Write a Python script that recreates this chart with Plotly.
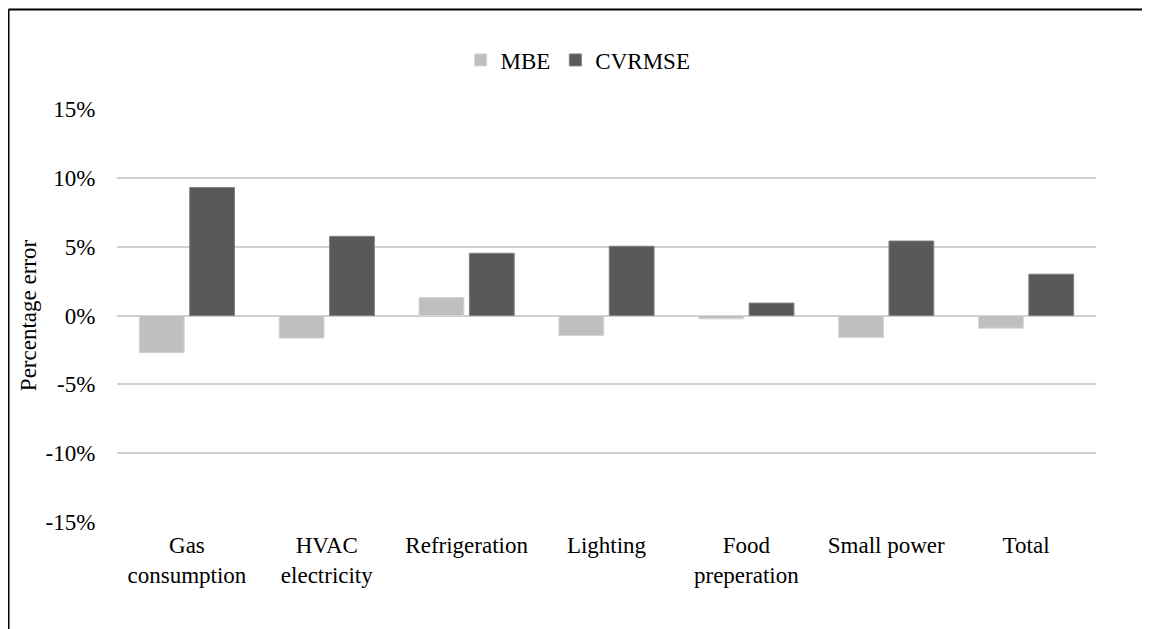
import plotly.graph_objects as go

categories = ["Gas<br>consumption", "HVAC<br>electricity", "Refrigeration", "Lighting",
              "Food<br>preperation", "Small power", "Total"]
mbe = [-2.7, -1.64, 1.3, -1.45, -0.24, -1.59, -0.92]
cvrmse = [9.3, 5.75, 4.52, 5.03, 0.9, 5.41, 3.0]
y_ticks = [-15, -10, -5, 0, 5, 10, 15]

FONT = "Liberation Serif, Times New Roman, serif"

fig = go.Figure()
fig.add_trace(go.Bar(name="MBE", x=categories, y=mbe,
                     marker=dict(color="#bfbfbf", line=dict(color="#d4d4d4", width=1))))
fig.add_trace(go.Bar(name="CVRMSE", x=categories, y=cvrmse,
                     marker=dict(color="#595959", line=dict(color="#808080", width=1))))

# page is offset by the browser's 8px body margin
OFF = 8
W, H = 1150 - OFF, 629 - OFF
L, T = 117 - OFF, 109 - OFF
R = 1150 - 1096
B = 629 - 522
pw, ph = W - L - R, H - T - B

def px_x(px):
    return (px - OFF - L) / pw

def px_y(py):
    return (H - B - (py - OFF)) / ph

fig.update_layout(
    width=W, height=H,
    margin=dict(l=L, r=R, t=T, b=B),
    paper_bgcolor="white", plot_bgcolor="white",
    font=dict(family=FONT, size=23, color="#000000"),
    barmode="group", bargap=0.28, bargroupgap=0.11,
    showlegend=True,
    legend=dict(orientation="h", x=px_x(578), xanchor="center", y=px_y(60), yanchor="middle",
                font=dict(family=FONT, size=23), traceorder="normal"),
    xaxis=dict(showgrid=False, showline=False, zeroline=False,
               ticks="outside", ticklen=2, tickcolor="rgba(0,0,0,0)",
               tickfont=dict(family=FONT, size=23)),
    yaxis=dict(range=[-15, 15], tickvals=y_ticks, ticktext=[f"{v}%" for v in y_ticks],
               showgrid=True, gridcolor="#d0d0d0", gridwidth=1.5,
               zeroline=True, zerolinecolor="#d0d0d0", zerolinewidth=1.5,
               showline=False, ticks="outside", ticklen=16, tickcolor="rgba(0,0,0,0)",
               tickfont=dict(family=FONT, size=23),
               title=dict(text="Percentage error", font=dict(family=FONT, size=23), standoff=2)),
    shapes=[
        dict(type="line", xref="paper", yref="paper", x0=px_x(8.5), x1=px_x(1170),
             y0=px_y(9.5), y1=px_y(9.5), line=dict(color="black", width=2)),
        dict(type="line", xref="paper", yref="paper", x0=px_x(8.5), x1=px_x(8.5),
             y0=px_y(9.5), y1=px_y(650), line=dict(color="black", width=2)),
    ],
)

fig.write_html("out.html")
